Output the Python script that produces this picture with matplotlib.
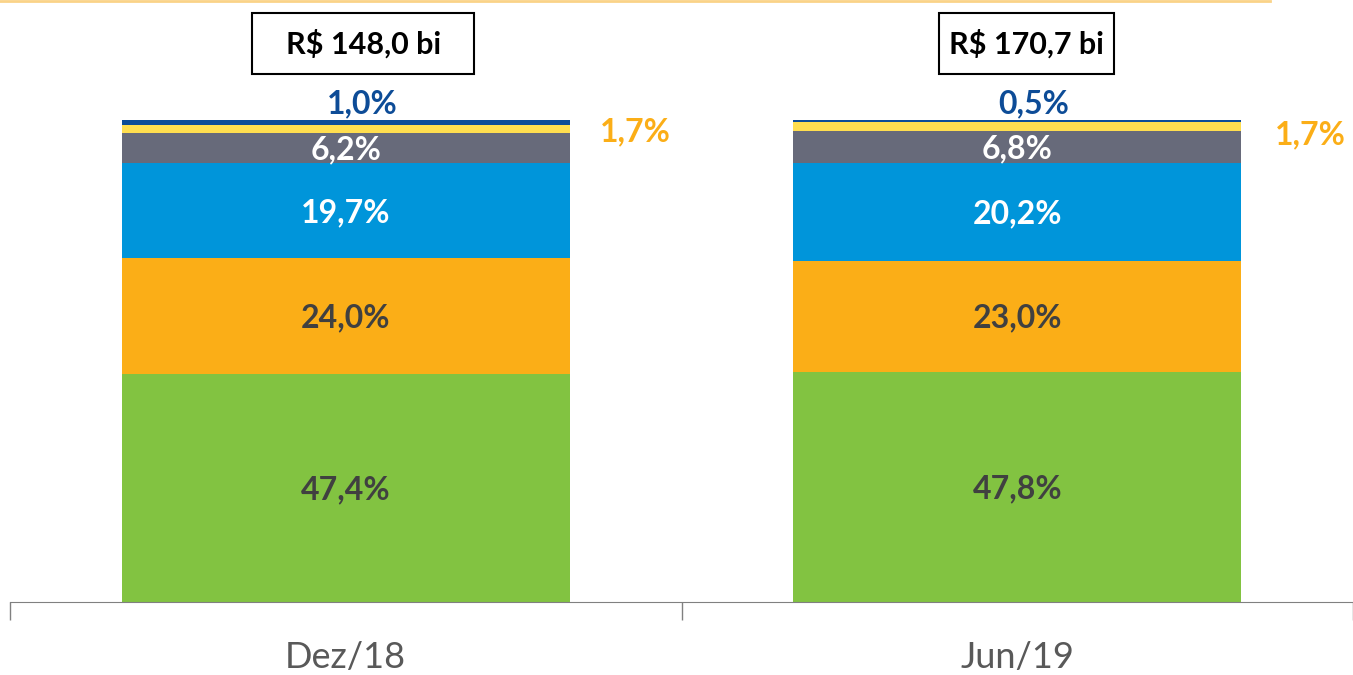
import matplotlib.pyplot as plt
from matplotlib.patches import Rectangle
from matplotlib.lines import Line2D

plt.rcParams['font.family'] = ['Lato', 'DejaVu Sans']

categorias = ['Dez/18', 'Jun/19']
totais = ['R$ 148,0 bi', 'R$ 170,7 bi']
verde = [47.4, 47.8]
laranja = [24.0, 23.0]
azul = [19.7, 20.2]
cinza = [6.2, 6.8]
amarelo = [1.7, 1.7]
azul_escuro = [1.0, 0.5]

camadas = [verde, laranja, azul, cinza, amarelo, azul_escuro]
cores = ['#82C341', '#FBAE17', '#0095DA', '#676A7A', '#FFDE4F', '#0D4C97']
cores_texto = ['#404040', '#404040', 'white', 'white', None, None]


def fmt(v):
    return f'{v:.1f}%'.replace('.', ',')


fig = plt.figure(figsize=(13.53, 6.75), dpi=100)
ax = fig.add_axes([10 / 1353, 73 / 675, 1 - 10 / 1353, 602 / 675])

x = range(len(categorias))
base = [0.0, 0.0]
for vals, cor, ct in zip(camadas, cores, cores_texto):
    ax.bar(x, vals, bottom=base, width=0.667, color=cor, linewidth=0)
    if ct:
        for i, v in enumerate(vals):
            ax.text(i, base[i] + v / 2 - 0.4, fmt(v), ha='center', va='center',
                    color=ct, fontsize=23, fontweight='bold')
    base = [b + v for b, v in zip(base, vals)]

for i in x:
    # rótulos externos
    ax.text(i + 0.024, base[i] + 3.3, fmt(azul_escuro[i]), ha='center', va='center',
            color='#0D4C97', fontsize=23, fontweight='bold')
    ax.text(i + 0.432 + 0.005 * i, base[i] - 2.4 - 0.6 * i, fmt(amarelo[i]), ha='center', va='center',
            color='#FBAE17', fontsize=23, fontweight='bold')
    # caixa com total
    cx = i + 0.026 - 0.012 * i
    w = 0.331 if i == 0 else 0.26
    ax.add_patch(Rectangle((cx - w / 2, 109.5), w, 12.7, facecolor='white', edgecolor='black',
                           linewidth=1.5, clip_on=False, zorder=3))
    ax.text(cx, 115.8, totais[i], ha='center', va='center', fontsize=22, fontweight='bold',
            color='black', zorder=4)

ax.set_xlim(-0.5, 1.5)
ax.set_ylim(0, 124.9)
for s in ['top', 'right', 'left']:
    ax.spines[s].set_visible(False)
ax.spines['bottom'].set_color('#808080')
ax.set_yticks([])
ax.set_xticks(list(x))
ax.set_xticklabels(categorias, fontsize=26, color='#595959')
ax.tick_params(axis='x', which='major', length=0, pad=28)
ax.set_xticks([-0.5, 0.5, 1.5], minor=True)
ax.tick_params(axis='x', which='minor', length=13, color='#808080', width=1)

# linha decorativa no topo
fig.add_artist(Line2D([0, 1270 / 1353], [0.998, 0.998], color='#F9C86A', linewidth=2, alpha=0.8))

fig.savefig('out.png', dpi=100)
